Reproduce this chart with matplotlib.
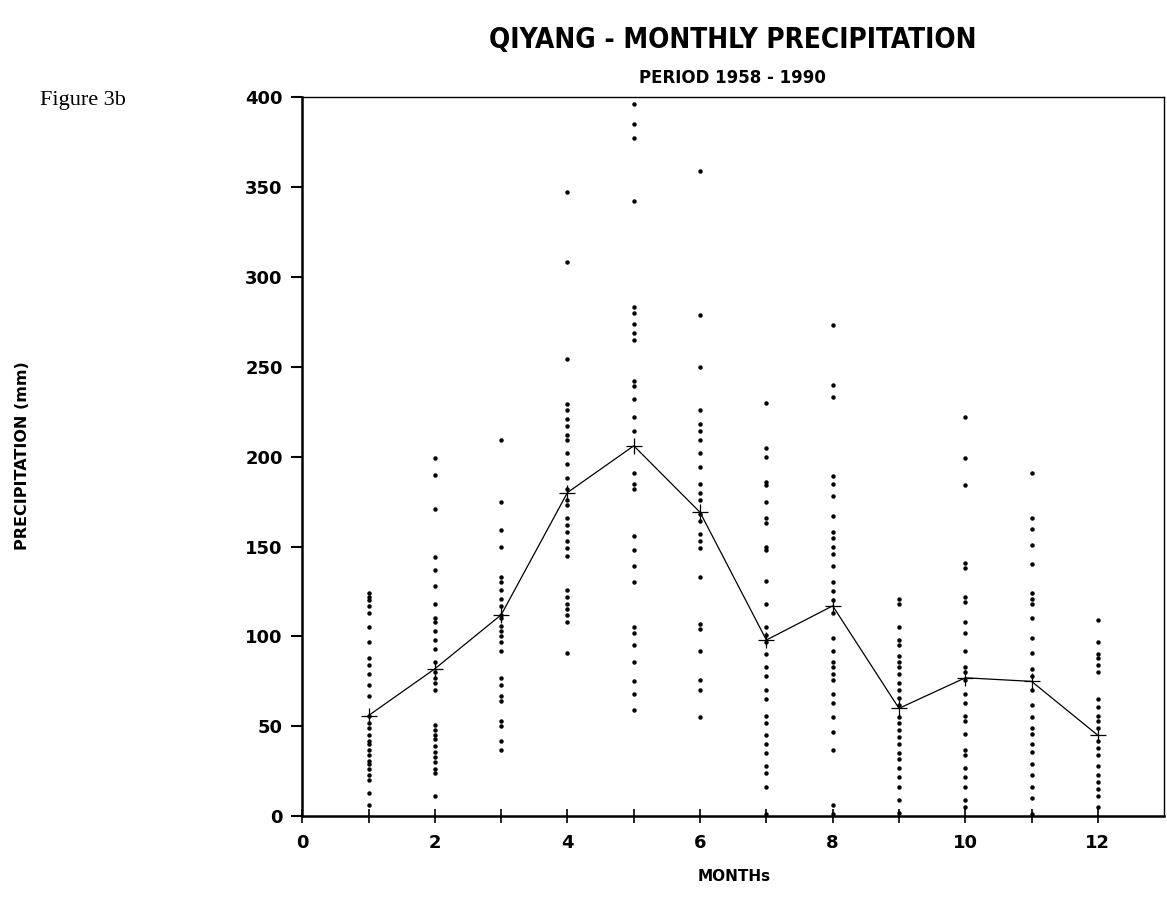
import matplotlib
matplotlib.use("Agg")
import matplotlib.pyplot as plt
from matplotlib.ticker import FixedLocator

months = list(range(1, 13))
month_values = [
    [124, 122, 120, 117, 113, 105, 97, 88, 84, 79, 73, 67, 56, 52, 49, 45, 42, 40, 37, 34, 31, 29, 26, 23, 20, 13, 6],
    [199, 190, 171, 144, 137, 128, 118, 110, 108, 103, 98, 93, 86, 80, 77, 74, 70, 51, 48, 45, 43, 39, 36, 33, 30, 26, 24, 11],
    [209, 175, 159, 150, 133, 130, 126, 121, 117, 112, 110, 106, 103, 100, 97, 92, 77, 73, 67, 64, 53, 50, 42, 37],
    [347, 308, 254, 229, 226, 221, 217, 212, 209, 202, 196, 188, 182, 176, 173, 166, 162, 158, 153, 149, 145, 126, 122, 118, 115, 112, 108, 91],
    [396, 385, 377, 342, 283, 280, 274, 269, 265, 242, 239, 232, 222, 214, 191, 185, 182, 156, 148, 139, 130, 105, 102, 95, 86, 75, 68, 59],
    [359, 279, 250, 226, 218, 214, 209, 202, 194, 185, 180, 176, 168, 164, 157, 153, 149, 133, 107, 104, 92, 76, 70, 55],
    [230, 205, 200, 186, 184, 175, 166, 163, 150, 148, 131, 118, 105, 101, 97, 90, 83, 78, 70, 65, 56, 52, 45, 40, 35, 28, 24, 16, 1],
    [273, 240, 233, 189, 185, 178, 167, 158, 155, 150, 146, 139, 130, 125, 120, 113, 99, 92, 86, 83, 79, 76, 68, 63, 55, 47, 37, 6, 1],
    [121, 118, 105, 98, 95, 89, 86, 83, 79, 74, 70, 66, 62, 55, 52, 48, 44, 40, 35, 32, 27, 22, 16, 9, 2],
    [222, 199, 184, 141, 138, 122, 119, 108, 102, 92, 83, 80, 76, 68, 63, 56, 53, 46, 37, 34, 27, 22, 16, 9, 5],
    [191, 166, 160, 151, 140, 124, 121, 118, 110, 99, 91, 82, 78, 70, 62, 55, 49, 46, 40, 36, 29, 23, 16, 10, 1],
    [109, 97, 90, 88, 84, 80, 65, 61, 56, 53, 49, 42, 38, 34, 28, 23, 19, 15, 11, 5],
]
monthly_mean = [56, 82, 112, 180, 206, 169, 98, 117, 60, 77, 75, 45]

x_major = [0, 2, 4, 6, 8, 10, 12]
x_minor = [1, 3, 5, 7, 9, 11]
y_ticks = [0, 50, 100, 150, 200, 250, 300, 350, 400]

title = "QIYANG - MONTHLY PRECIPITATION"
subtitle = "PERIOD 1958 - 1990"
fig_label = "Figure 3b"
ylabel = "PRECIPITATION (mm)"
xlabel = "MONTHs"

fig = plt.figure(figsize=(11.67, 9.11), dpi=100)
ax = fig.add_axes([0.259, 0.104, 0.7386, 0.7896])

for m, vals in zip(months, month_values):
    ax.plot([m] * len(vals), vals, linestyle="none", marker="o", markersize=3.2,
            color="black", markeredgewidth=0)

ax.plot(months, monthly_mean, color="black", linewidth=0.9, marker="+",
        markersize=12, markeredgewidth=0.9)

ax.set_xlim(0, 13)
ax.set_ylim(0, 400)
ax.set_xticks(x_major)
ax.xaxis.set_minor_locator(FixedLocator(x_minor))
ax.set_yticks(y_ticks)

ax.tick_params(axis="x", which="both", direction="inout", length=10, width=1.2, pad=8)
ax.tick_params(axis="y", which="major", direction="out", length=8, width=1.5, pad=6)
for lbl in ax.get_xticklabels() + ax.get_yticklabels():
    lbl.set_fontweight("bold")
    lbl.set_fontsize(13)
    lbl.set_family("DejaVu Sans")

ax.spines["left"].set_linewidth(1.8)
ax.spines["bottom"].set_linewidth(1.8)
ax.spines["top"].set_linewidth(1.0)
ax.spines["right"].set_linewidth(1.0)

fig.text(0.628, 0.956, title, ha="center", va="center", fontsize=20,
         fontweight="bold", family="DejaVu Sans", fontstretch="condensed")
fig.text(0.628, 0.914, subtitle, ha="center", va="center", fontsize=12,
         fontweight="bold", family="DejaVu Sans")
fig.text(0.034, 0.890, fig_label, ha="left", va="center", fontsize=16,
         family="Liberation Serif")
fig.text(0.019, 0.50, ylabel, ha="center", va="center", rotation=90,
         fontsize=11.5, fontweight="bold", family="DejaVu Sans")
fig.text(0.629, 0.038, xlabel, ha="center", va="center", fontsize=11,
         fontweight="bold", family="DejaVu Sans")

fig.savefig("out.png", dpi=100, facecolor="white")
